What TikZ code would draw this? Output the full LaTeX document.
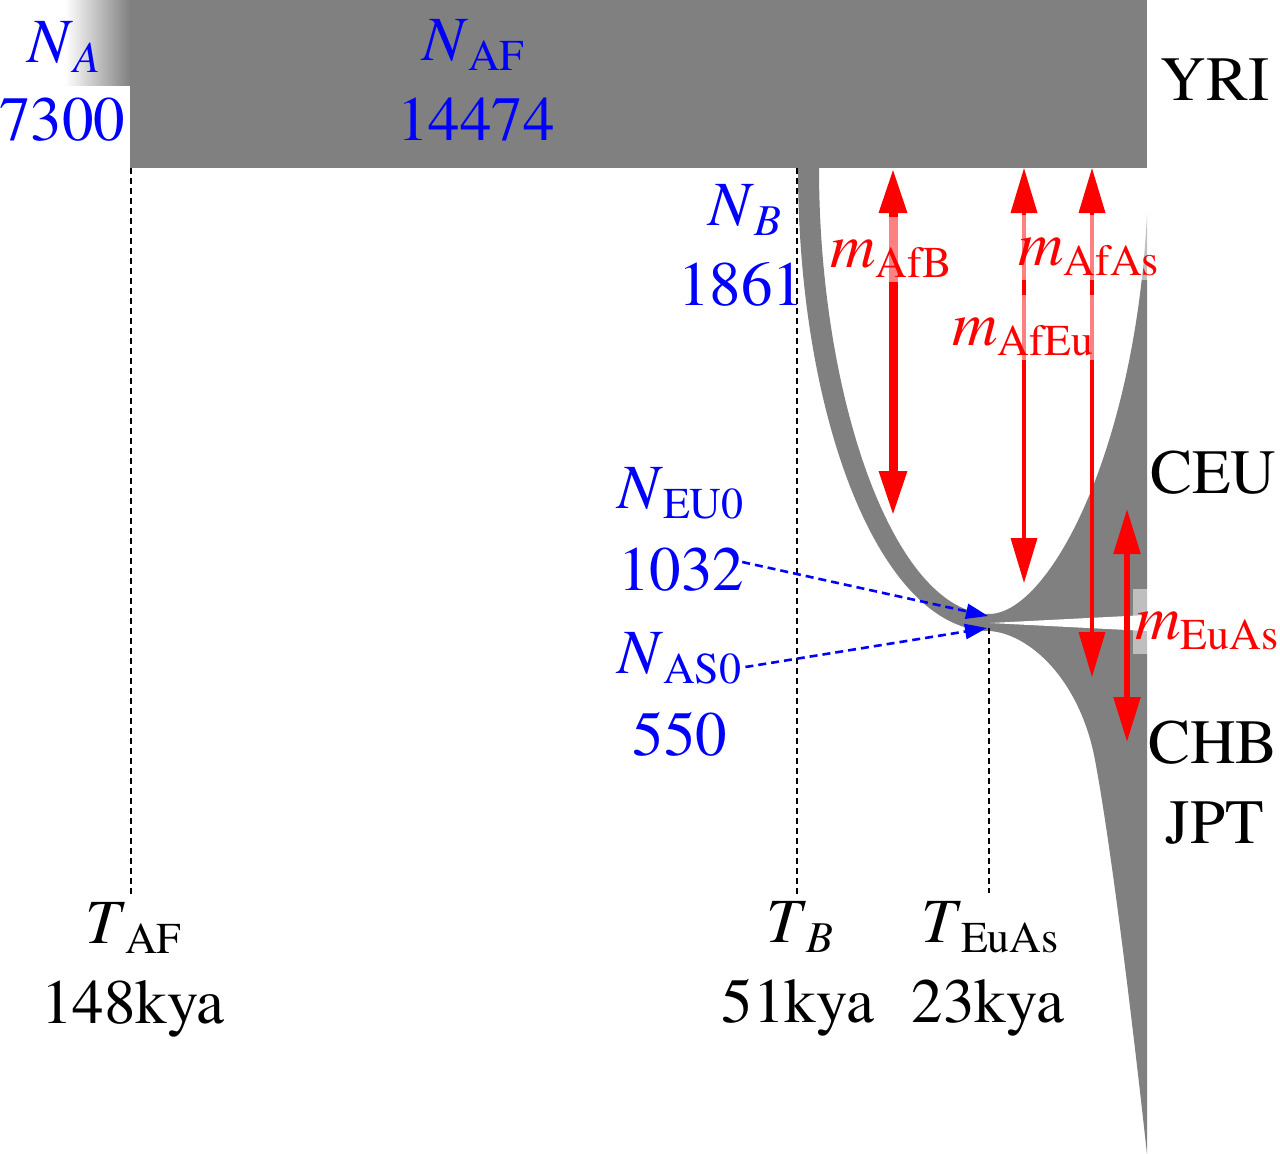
\documentclass[tikz,border=0pt]{standalone}
\usepackage{fontspec}
\IfFontExistsTF{TeX Gyre Termes}{\setmainfont{TeX Gyre Termes}}{\setmainfont{Liberation Serif}}
\usetikzlibrary{arrows.meta}
\definecolor{popgray}{RGB}{128,128,128}
\definecolor{mred}{RGB}{255,0,0}
\definecolor{nblue}{RGB}{0,0,255}
\newcommand{\bigf}{\rmfamily\fontsize{63}{63}\selectfont}
\newcommand{\subf}{\fontsize{44}{44}\selectfont}
\newcommand{\lbsub}[2]{#1\raisebox{-10pt}{\subf #2}}
\begin{document}
\begin{tikzpicture}[x=1pt,y=-1pt,
  txt/.style={inner sep=0pt, font=\bigf},
  bluetxt/.style={txt, text=nblue},
  migbox/.style={txt, text=mred, fill=white, fill opacity=0.5, text opacity=1,
    text height=50pt, text depth=15pt, inner xsep=2pt},
  divline/.style={black, line width=1.6pt, dash pattern=on 6pt off 4pt},
  migarrow/.style={mred, {Triangle[length=45pt,width=26pt]}-{Triangle[length=45pt,width=26pt]}},
  blarrow/.style={nblue, line width=2.6pt, dash pattern=on 8pt off 5pt,
    -{Triangle[length=22pt,width=15pt]}},
]
\useasboundingbox (0,0) rectangle (1280,1154);
% ancestral / African population
\shade[left color=white, right color=popgray] (65,0) rectangle (130.5,85);
\fill[popgray] (130,0) rectangle (1147,168);
% bottleneck, CEU and CHB populations
\fill[popgray] (798,168) .. controls (798,418) and (880,631) .. (990,631)
  .. controls (1030,634) and (1080,680) .. (1095,760)
  .. controls (1110,840) and (1130,1000) .. (1147,1154)
  -- (1147,215)
  .. controls (1135,450) and (1050,612) .. (990,614)
  .. controls (895,614) and (819,400) .. (819,168) -- cycle;
\fill[white] (990,623) -- (1147,615) -- (1147,631) -- cycle;
% split times
\coordinate (tafTop) at (131,168);
\coordinate (tafBot) at (131,897);
\coordinate (tbTop) at (797,168);
\coordinate (tbBot) at (797,897);
\coordinate (teTop) at (989,628);
\coordinate (teBot) at (989,893);
\draw[divline] (tafTop) -- (tafBot);
\draw[divline] (tbTop) -- (tbBot);
\draw[divline] (teTop) -- (teBot);
% migration arrows
\coordinate (afbA) at (893,168);
\coordinate (afbB) at (893,516);
\coordinate (afeuA) at (1024,168);
\coordinate (afeuB) at (1024,583);
\coordinate (afasA) at (1092,168);
\coordinate (afasB) at (1092,677);
\coordinate (euasA) at (1127,509);
\coordinate (euasB) at (1127,742);
\draw[migarrow, line width=9pt] (afbA) -- (afbB);
\draw[migarrow, line width=3.5pt] (afeuA) -- (afeuB);
\draw[migarrow, line width=3.5pt] (afasA) -- (afasB);
\draw[migarrow, line width=5.5pt] (euasA) -- (euasB);
\node[migbox, anchor=base west] (mAfB) at (828,267) {\lbsub{\textit{m}}{AfB}};
\node[migbox, anchor=base west] (mAfAs) at (1016,265) {\lbsub{\textit{m}}{AfAs}};
\node[migbox, anchor=base west] (mAfEu) at (950,345) {\lbsub{\textit{m}}{AfEu}};
\node[migbox, anchor=base west] (mEuAs) at (1133,639) {\lbsub{\textit{m}}{EuAs}};
% population sizes
\node[bluetxt, anchor=base west] (nA) at (27,62) {\lbsub{\textit{N}}{\textit{A}}};
\node[bluetxt, anchor=base] (n7300) at (62,140) {7300};
\node[bluetxt, anchor=base west] (nAF) at (422,60) {\lbsub{\textit{N}}{AF}};
\node[bluetxt, anchor=base] (n14474) at (476,140) {14474};
\node[bluetxt, anchor=base west] (nB) at (708,225) {\lbsub{\textit{N}}{\textit{B}}};
\node[bluetxt, anchor=base] (n1861) at (741,305) {1861};
\node[bluetxt, anchor=base west] (nEU0) at (617,508) {\lbsub{\textit{N}}{EU0}};
\node[bluetxt, anchor=base] (n1032) at (681,590) {1032};
\node[bluetxt, anchor=base west] (nAS0) at (617,673) {\lbsub{\textit{N}}{AS0}};
\node[bluetxt, anchor=base] (n550) at (680,755) {550};
\coordinate (s1) at (988,616);
\coordinate (s2) at (987,628);
\draw[blarrow] ([xshift=-2pt,yshift=28pt]n1032.base east) -- (s1);
\draw[blarrow] ([xshift=4pt,yshift=6pt]nAS0.base east) -- (s2);
% population names
\node[txt, anchor=base] (yri) at (1215,100) {YRI};
\node[txt, anchor=base] (ceu) at (1213,493) {CEU};
\node[txt, anchor=base] (chb) at (1213,763) {CHB};
\node[txt, anchor=base] (jpt) at (1215,843) {JPT};
% times
\node[txt, anchor=base west] (tAF) at (85,943) {\lbsub{\textit{T}}{AF}};
\node[txt, anchor=base] (k148) at (133,1023) {148kya};
\node[txt, anchor=base west] (tB) at (766,942) {\lbsub{\textit{T}}{\textit{B}}};
\node[txt, anchor=base] (k51) at (798,1022) {51kya};
\node[txt, anchor=base west] (tEuAs) at (921,942) {\lbsub{\textit{T}}{EuAs}};
\node[txt, anchor=base] (k23) at (988,1022) {23kya};
\end{tikzpicture}
\end{document}
